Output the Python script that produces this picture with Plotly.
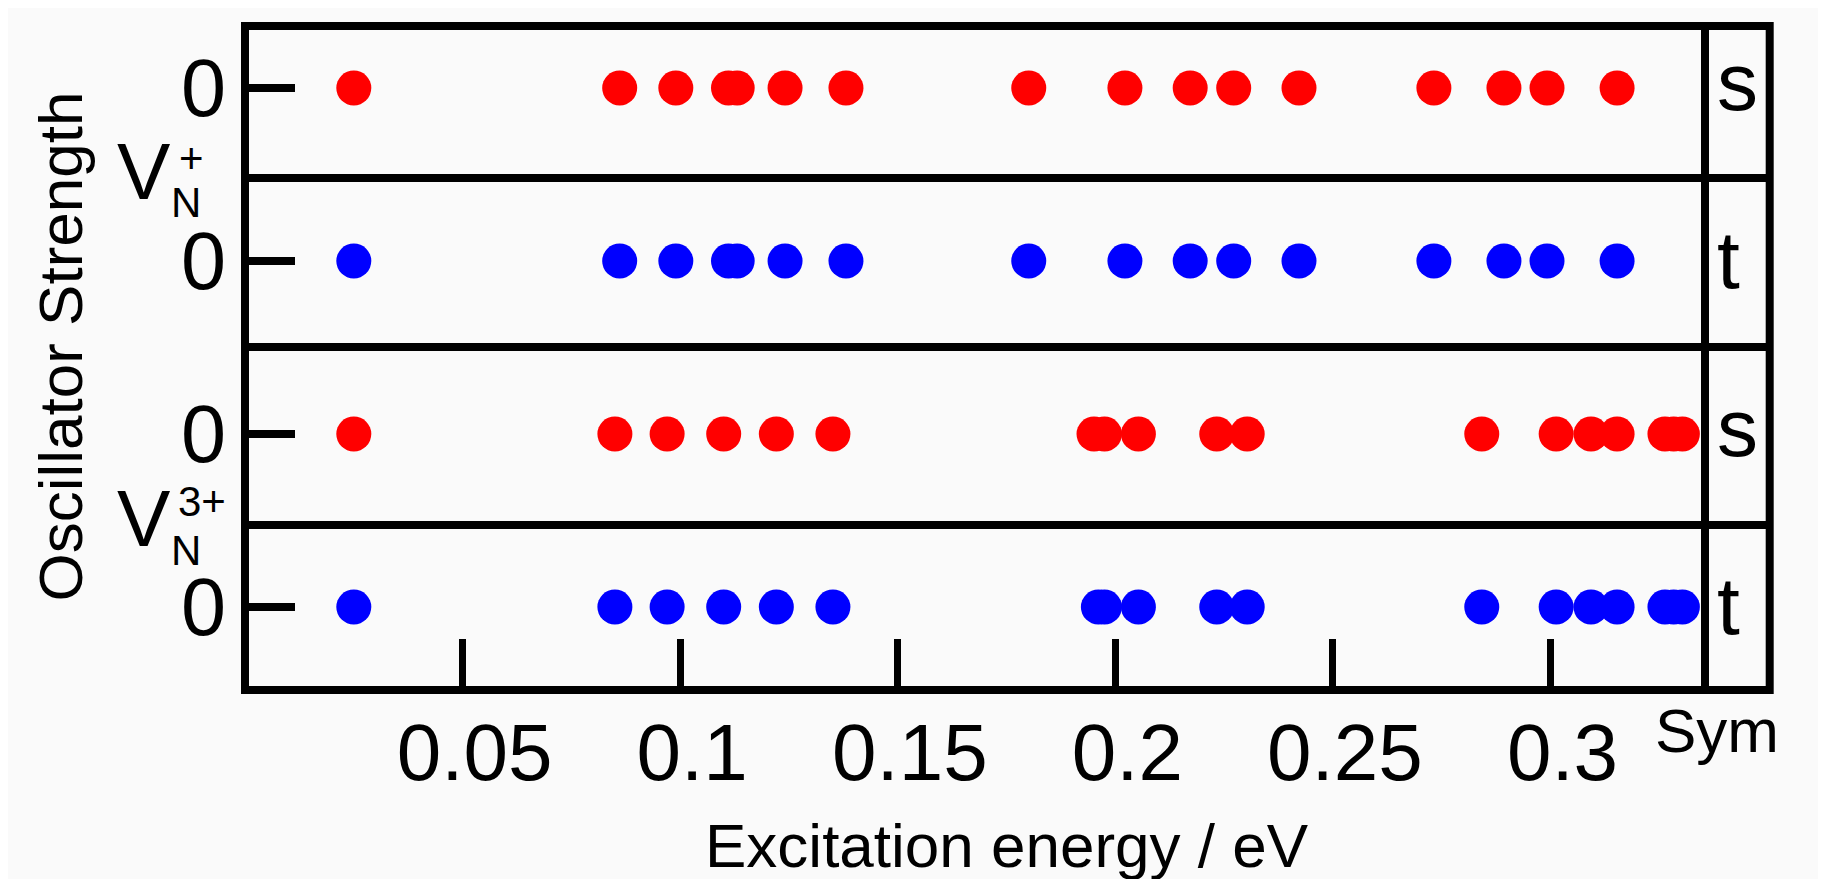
import plotly.graph_objects as go

# ---------------- data (excitation energies in eV, oscillator strengths) ----------------
vn1_singlet_energy = [0.0250, 0.0861, 0.0990, 0.1111, 0.1131, 0.1241, 0.1381, 0.1801,
                      0.2022, 0.2172, 0.2272, 0.2422, 0.2732, 0.2893, 0.2992, 0.3153]
vn1_singlet_strength = [0, 0, 0, 0, 0, 0, 0, 0, 0, 0, 0, 0, 0, 0, 0, 0]

vn1_triplet_energy = [0.0250, 0.0861, 0.0990, 0.1111, 0.1131, 0.1241, 0.1381, 0.1801,
                      0.2022, 0.2172, 0.2272, 0.2422, 0.2732, 0.2893, 0.2992, 0.3153]
vn1_triplet_strength = [0, 0, 0, 0, 0, 0, 0, 0, 0, 0, 0, 0, 0, 0, 0, 0]

vn3_singlet_energy = [0.0250, 0.0850, 0.0970, 0.1100, 0.1221, 0.1351, 0.1951, 0.1975, 0.2053,
                      0.2233, 0.2303, 0.2842, 0.3013, 0.3093, 0.3153, 0.3263, 0.3283, 0.3303]
vn3_singlet_strength = [0, 0, 0, 0, 0, 0, 0, 0, 0, 0, 0, 0, 0, 0, 0, 0, 0, 0]

vn3_triplet_energy = [0.0250, 0.0850, 0.0970, 0.1100, 0.1221, 0.1351, 0.1961, 0.1975, 0.2053,
                      0.2233, 0.2303, 0.2842, 0.3013, 0.3093, 0.3153, 0.3263, 0.3283, 0.3303]
vn3_triplet_strength = [0, 0, 0, 0, 0, 0, 0, 0, 0, 0, 0, 0, 0, 0, 0, 0, 0, 0]

x_tick_values = [0.05, 0.10, 0.15, 0.20, 0.25, 0.30]
x_tick_labels = ["0.05", "0.1", "0.15", "0.2", "0.25", "0.3"]
sym_labels = ["s", "t", "s", "t"]

# ---------------- layout geometry ----------------
OFF = 8                 # page body margin of the html page
W, H = 1826 - OFF, 879 - OFF
L, T = 245 - OFF, 26 - OFF
PW, PH = 1460, 664
R = W - L - PW
B = H - T - PH
FONT = "Liberation Sans, Arial, Helvetica, sans-serif"
RED, BLUE = "#ff0000", "#0000ff"


def fx(px):
    """page pixel x -> paper fraction"""
    return (px - OFF - L) / PW


def fy(py):
    """page pixel y -> paper fraction"""
    return (T + PH - (py - OFF)) / PH


# rows (top, bottom, zero-line) in page pixels, top to bottom
rows = [(26, 178, 88), (178, 347, 261), (347, 525, 434), (525, 690, 607)]
yaxis_ids = ["y4", "y3", "y2", "y"]
series = [
    (vn1_singlet_energy, vn1_singlet_strength, RED),
    (vn1_triplet_energy, vn1_triplet_strength, BLUE),
    (vn3_singlet_energy, vn3_singlet_strength, RED),
    (vn3_triplet_energy, vn3_triplet_strength, BLUE),
]

fig = go.Figure()
for (xs, ys, col), yid in zip(series, yaxis_ids):
    fig.add_trace(go.Scatter(
        x=xs, y=ys, mode="markers", xaxis="x", yaxis=yid,
        marker=dict(size=35, color=col, line=dict(width=0)),
        showlegend=False, hoverinfo="x",
    ))

layout = dict(
    width=W, height=H,
    margin=dict(l=L, r=R, t=T, b=B, pad=0),
    paper_bgcolor="#fafafa", plot_bgcolor="#fafafa",
    font=dict(family=FONT, color="black"),
    showlegend=False,
    xaxis=dict(
        range=[0, 0.3355], anchor="y", showgrid=False, zeroline=False, showline=False,
        tickmode="array", tickvals=x_tick_values, ticktext=x_tick_labels,
        ticks="inside", ticklen=51, tickwidth=7, tickcolor="black",
        tickfont=dict(size=80, family=FONT, color="black"),
        ticklabelstandoff=9, ticklabelshift=12, fixedrange=True,
    ),
)
for (top, bot, zero), yid in zip(rows, yaxis_ids):
    name = "yaxis" if yid == "y" else "yaxis" + yid[1:]
    layout[name] = dict(
        domain=[fy(bot), fy(top)], anchor="x",
        range=[-(bot - zero), (zero - top)],
        showgrid=False, zeroline=False, showline=False,
        tickmode="array", tickvals=[0], ticktext=["0"],
        ticks="inside", ticklen=50, tickwidth=8, tickcolor="black",
        tickfont=dict(size=81, family=FONT, color="black"),
        ticklabelstandoff=18, fixedrange=True,
    )
fig.update_layout(**layout)

# ---------------- frame, dividers, symmetry column ----------------
x_right = fx(1769.7)
shapes = [
    dict(type="rect", xref="paper", yref="paper", x0=0, x1=x_right, y0=0, y1=1,
         line=dict(color="black", width=8)),
    dict(type="line", xref="paper", yref="paper", x0=1, x1=1, y0=0, y1=1,
         line=dict(color="black", width=8)),
]
for top, bot, zero in rows[1:]:
    shapes.append(dict(type="line", xref="paper", yref="paper", x0=0, x1=x_right,
                       y0=fy(top), y1=fy(top), line=dict(color="black", width=8)))
fig.update_layout(shapes=shapes)

# ---------------- text ----------------
ann = []


def add_text(text, px, py, size, xanchor="center", angle=0):
    ann.append(dict(text=text, xref="paper", yref="paper", x=fx(px), y=fy(py),
                    xanchor=xanchor, yanchor="middle", showarrow=False, textangle=angle,
                    font=dict(size=size, family=FONT, color="black")))


# symmetry labels (s / t)
sym_offsets = {"s": -7, "t": -1.5}
for lab, (top, bot, zero) in zip(sym_labels, rows):
    add_text(lab, 1715, zero + sym_offsets[lab], 82, xanchor="left")
add_text("Sym", 1717, 730.7, 62)

# axis titles
add_text("Excitation energy / eV", 1007, 845, 62)
add_text("Oscillator Strength", 60, 346.5, 62, angle=-90)

# defect labels V_N^+ and V_N^3+
add_text("V", 144, 171, 80)
add_text("N", 186, 202.5, 42)
add_text("+", 191, 158, 42)
add_text("V", 144, 518.5, 80)
add_text("N", 186, 550.5, 42)
add_text("3+", 202, 501, 42)

fig.update_layout(annotations=ann)
fig.write_html("out.html")
